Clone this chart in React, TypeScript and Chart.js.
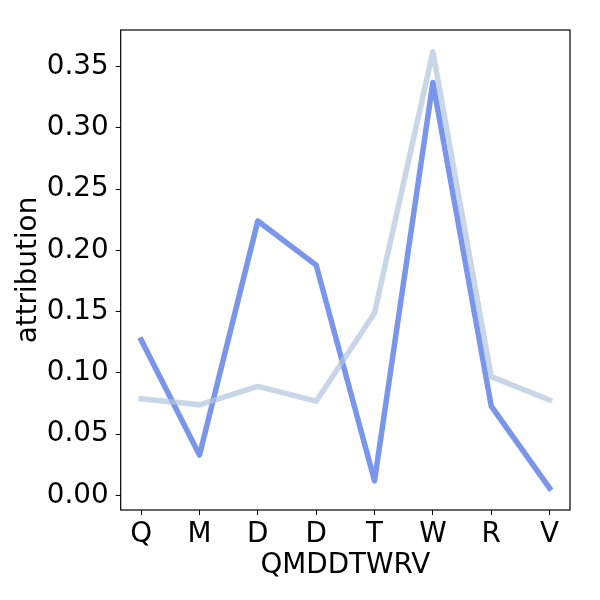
import { useRef, useEffect } from 'react'
import { Chart, registerables } from 'chart.js'

Chart.register(...registerables)

const residues = ['Q', 'M', 'D', 'D', 'T', 'W', 'R', 'V']
const sequence = 'QMDDTWRV'
const attribution = [0.127, 0.033, 0.224, 0.188, 0.012, 0.337, 0.073, 0.006]
const baseline = [0.079, 0.074, 0.089, 0.077, 0.149, 0.362, 0.097, 0.078]
const yTicks = [0, 0.05, 0.1, 0.15, 0.2, 0.25, 0.3, 0.35]

const frame = {
  id: 'frame',
  afterDraw(chart: Chart) {
    const { ctx, chartArea: a } = chart
    ctx.save()
    ctx.strokeStyle = '#000'
    ctx.lineWidth = 1.2
    ctx.strokeRect(a.left, a.top, a.right - a.left, a.bottom - a.top)
    ctx.restore()
  },
}

export default function App() {
  const canvasRef = useRef<HTMLCanvasElement>(null)

  useEffect(() => {
    if (!canvasRef.current) return
    const ctx = canvasRef.current.getContext('2d')
    if (!ctx) return

    Chart.defaults.font.family = "'DejaVu Sans', sans-serif"
    Chart.defaults.color = '#000'

    const chart = new Chart(ctx, {
      type: 'line',
      data: {
        labels: residues.map((_, i) => i),
        datasets: [
          {
            data: attribution.map((y, i) => ({ x: i, y })),
            borderColor: 'rgba(65,105,225,0.7)',
            borderWidth: 5.5,
            borderJoinStyle: 'round',
            borderCapStyle: 'square',
            pointRadius: 0,
            tension: 0,
            order: 2,
          },
          {
            data: baseline.map((y, i) => ({ x: i, y })),
            borderColor: 'rgba(176,196,222,0.7)',
            borderWidth: 5.5,
            borderJoinStyle: 'round',
            borderCapStyle: 'square',
            pointRadius: 0,
            tension: 0,
            order: 1,
          },
        ],
      },
      options: {
        animation: false,
        responsive: false,
        layout: { padding: { top: 30, right: 30, left: 0, bottom: 0 } },
        plugins: { legend: { display: false }, tooltip: { enabled: false } },
        scales: {
          x: {
            type: 'linear',
            min: -0.35,
            max: 7.35,
            afterBuildTicks: (s: any) => {
              s.ticks = residues.map((_, i) => ({ value: i }))
            },
            afterFit: (s: any) => { s.height = 90 },
            grid: { drawOnChartArea: false, drawTicks: true, tickLength: 5, color: '#000' },
            border: { display: false },
            ticks: {
              font: { size: 27.8 },
              padding: 3,
              maxRotation: 0,
              autoSkip: false,
              callback: (v: any) => residues[v as number] ?? '',
            },
            title: { display: true, text: sequence, font: { size: 27.8 }, padding: { top: 0, bottom: 18 } },
          },
          y: {
            min: -0.0118,
            max: 0.3798,
            afterBuildTicks: (s: any) => {
              s.ticks = yTicks.map((value) => ({ value }))
            },
            afterFit: (s: any) => { s.width = 120.7 },
            grid: { drawOnChartArea: false, drawTicks: true, tickLength: 5, color: '#000' },
            border: { display: false },
            ticks: {
              font: { size: 27.8 },
              padding: 7,
              callback: (v: any) => (v as number).toFixed(2),
            },
            title: { display: true, text: 'attribution', font: { size: 27.8 }, padding: { top: 12, bottom: 0 } },
          },
        },
      },
      plugins: [frame],
    })

    return () => { chart.destroy() }
  }, [])

  return (
    <div style={{ position: 'absolute', left: 0, top: 0, width: 600, height: 600 }}>
      <canvas ref={canvasRef} width={600} height={600} style={{ width: 600, height: 600 }} />
    </div>
  )
}
